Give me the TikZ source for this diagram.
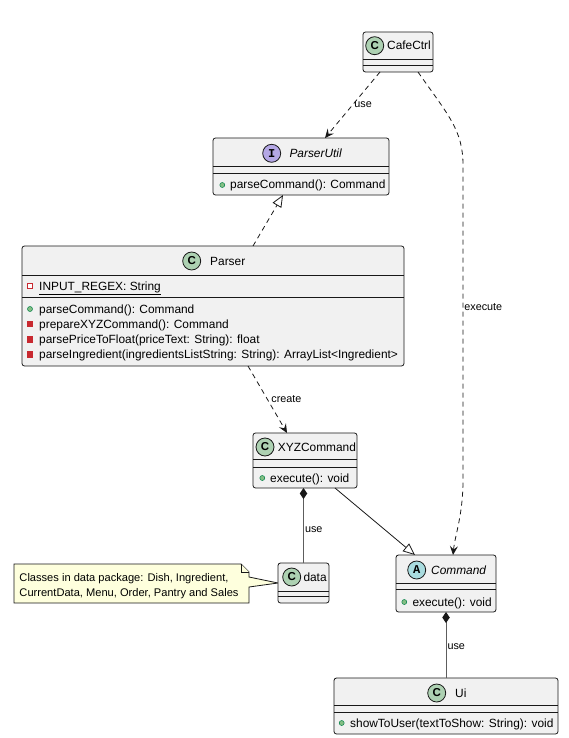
\documentclass[tikz,border=0pt]{standalone}
\usepackage{fontspec}
\setmainfont{Liberation Sans}
\setmonofont{Liberation Mono}
\usetikzlibrary{arrows.meta,backgrounds}
\definecolor{boxfill}{HTML}{F1F1F1}
\definecolor{boxline}{HTML}{181818}
\definecolor{classc}{HTML}{ADD1B2}
\definecolor{ifacec}{HTML}{B4A7E5}
\definecolor{absc}{HTML}{A9DCDF}
\definecolor{notefill}{HTML}{FEFFDD}
\definecolor{pubfill}{HTML}{84BE84}
\definecolor{publine}{HTML}{038048}
\definecolor{privc}{HTML}{C82930}
\tikzset{
  classbox/.style={draw=boxline, fill=boxfill, rounded corners=2.5pt, line width=0.8pt, inner sep=0pt, outer sep=0pt},
  sepline/.style={draw=boxline, line width=0.8pt},
  badge/.style={circle, draw=boxline, line width=0.8pt, minimum size=18pt, inner sep=0pt, font=\fontsize{11.5}{11.5}\selectfont\bfseries},
  txt/.style={anchor=base west, inner sep=0pt, font=\fontsize{11.9}{14}\selectfont},
  lbl/.style={font=\fontsize{10.8}{12}\selectfont, inner sep=1.5pt},
  pub/.style={circle, fill=pubfill, draw=publine, line width=0.5pt, minimum size=5pt, inner sep=0pt},
  priv/.style={rectangle, fill=privc, draw=privc, line width=0.6pt, minimum size=5.5pt, inner sep=0pt},
  privattr/.style={priv, fill=white},
  dep/.style={draw=boxline, line width=0.8pt, dash pattern=on 5pt off 4pt, -{Stealth[length=9pt,width=8pt,inset=3.5pt]}},
  real/.style={draw=boxline, line width=0.8pt, dash pattern=on 5pt off 4pt, -{Triangle[length=12pt,width=10pt,fill=white]}},
  gen/.style={draw=boxline, line width=0.8pt, -{Triangle[length=12pt,width=10pt,fill=white]}},
  comp/.style={draw=boxline!70, line width=1pt, -{Diamond[length=11pt,width=7.5pt,color=boxline]}},
  notebox/.style={inner sep=0pt, outer sep=0pt, minimum width=235pt, minimum height=39pt}
}
\begin{document}
\begin{tikzpicture}[x=1pt,y=-1pt]
\useasboundingbox (0,0) rectangle (568,738);

\node[classbox, minimum width=70pt, minimum height=40pt] (ctrl) at (398,52) {};
\draw[sepline] (ctrl.west |- 0,59) -- (ctrl.east |- 0,59);
\draw[sepline] (ctrl.west |- 0,65) -- (ctrl.east |- 0,65);
\node[badge, fill=classc] at (374.7,45.7) {C};
\node[txt] at (387,50) {CafeCtrl};

\node[classbox, minimum width=176pt, minimum height=57pt] (putil) at (301,166.5) {};
\draw[sepline] (putil.west |- 0,166) -- (putil.east |- 0,166);
\draw[sepline] (putil.west |- 0,173) -- (putil.east |- 0,173);
\node[badge, fill=ifacec, font=\fontsize{12}{12}\selectfont\ttfamily\bfseries] at (271.7,153.3) {I};
\node[txt] at (289.3,157.5) {\itshape ParserUtil};
\node[pub] at (222.3,185) {};
\node[txt] at (230,189) {parseCommand(): Command};

\node[classbox, minimum width=382pt, minimum height=120pt] (parser) at (213,306) {};
\draw[sepline] (parser.west |- 0,275) -- (parser.east |- 0,275);
\draw[sepline] (parser.west |- 0,297) -- (parser.east |- 0,297);
\node[badge, fill=classc] at (191.7,261) {C};
\node[txt] at (210,265) {Parser};
\node[privattr] at (30,286) {};
\node[txt] at (39,290) {\underline{INPUT\_REGEX: String}};
\node[pub] at (30,309) {};
\node[txt] at (39,313) {parseCommand(): Command};
\node[priv] at (30,324) {};
\node[txt] at (39,328) {prepareXYZCommand(): Command};
\node[priv] at (30,339.5) {};
\node[txt] at (39,343.5) {parsePriceToFloat(priceText: String): float};
\node[priv] at (30,354.5) {};
\node[txt] at (39,358.5) {parseIngredient(ingredientsListString: String): ArrayList<Ingredient>};

\node[classbox, minimum width=104pt, minimum height=55pt] (xyz) at (305,460.5) {};
\draw[sepline] (xyz.west |- 0,459) -- (xyz.east |- 0,459);
\draw[sepline] (xyz.west |- 0,467) -- (xyz.east |- 0,467);
\node[badge, fill=classc] at (265,447) {C};
\node[txt] at (277.7,451) {XYZCommand};
\node[pub] at (262.3,478) {};
\node[txt] at (270,482) {execute(): void};

\node[classbox, minimum width=51pt, minimum height=40pt] (data) at (303.5,583) {};
\draw[sepline] (data.west |- 0,591) -- (data.east |- 0,591);
\draw[sepline] (data.west |- 0,596) -- (data.east |- 0,596);
\node[badge, fill=classc] at (291.7,577) {C};
\node[txt] at (303.3,581) {data};

\node[classbox, minimum width=100pt, minimum height=57pt] (cmd) at (446,583.5) {};
\draw[sepline] (cmd.west |- 0,583) -- (cmd.east |- 0,583);
\draw[sepline] (cmd.west |- 0,589) -- (cmd.east |- 0,589);
\node[badge, fill=absc, font=\fontsize{12}{12}\selectfont\ttfamily\bfseries] at (416.7,570) {A};
\node[txt] at (431,574) {\itshape Command};
\node[pub] at (404.3,602) {};
\node[txt] at (412.3,606) {execute(): void};

\node[classbox, minimum width=224pt, minimum height=56pt] (ui) at (446,706) {};
\draw[sepline] (ui.west |- 0,705) -- (ui.east |- 0,705);
\draw[sepline] (ui.west |- 0,712) -- (ui.east |- 0,712);
\node[badge, fill=classc] at (436.7,693) {C};
\node[txt] at (455,697) {Ui};
\node[pub] at (341.7,723) {};
\node[txt] at (350,727) {showToUser(textToShow: String): void};

\node[notebox] (note) at (131.5,583.5) {};
\node[txt, font=\fontsize{11.1}{13}\selectfont] at (19.3,581) {Classes in data package: Dish, Ingredient,};
\node[txt, font=\fontsize{11.1}{13}\selectfont] at (19.3,596.5) {CurrentData, Menu, Order, Pantry and Sales};
\begin{scope}[on background layer]
\draw[boxline, fill=notefill, line width=0.8pt] (note.north west) -- ([xshift=-8pt]note.north east) -- ([yshift=-8pt]note.north east)
  -- ([yshift=6.5pt]note.east) -- (data.west) -- ([yshift=-3.5pt]note.east) -- (note.south east) -- (note.south west) -- cycle;
\draw[boxline, fill=notefill, line width=0.8pt] ([xshift=-8pt]note.north east) -- ([xshift=-8pt,yshift=-8pt]note.north east) -- ([yshift=-8pt]note.north east);
\end{scope}

\draw[dep] ([xshift=-18pt]ctrl.south) -- node[lbl, right, pos=0.5] {use} ([xshift=24pt]putil.north);
\draw[dep] ([xshift=20pt]ctrl.south) .. controls (448,115) and (463,130) .. (463,165) -- node[lbl, right, pos=0.45, inner sep=1pt] {execute} (463,480)
  .. controls (463,515) and (455,535) .. ([xshift=7pt]cmd.north);
\draw[real] ([xshift=40pt]parser.north) -- ([xshift=-18pt]putil.south);
\draw[dep] ([xshift=35pt]parser.south) -- node[lbl, right, xshift=2pt] {create} ([xshift=-18pt]xyz.north);
\draw[gen] ([xshift=30pt]xyz.south) -- ([xshift=-31pt]cmd.north);
\draw[comp] (data.north) -- node[lbl, right, pos=0.45, inner sep=1pt] {use} (data.north |- xyz.south);
\draw[comp] (ui.north) -- node[lbl, right, pos=0.47, inner sep=1pt] {use} (cmd.south);
\end{tikzpicture}
\end{document}
